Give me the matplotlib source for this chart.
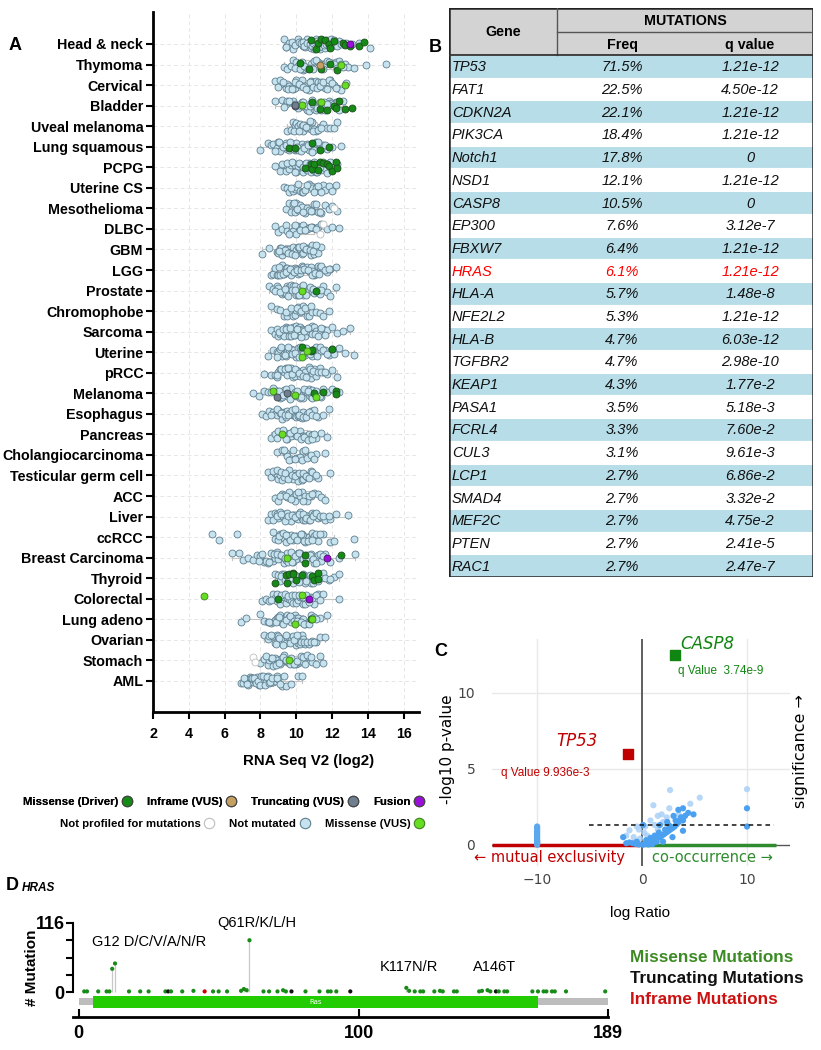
import numpy as np
import pandas as pd
import matplotlib
matplotlib.use('Agg')
import matplotlib.pyplot as plt
import seaborn as sns
from matplotlib.lines import Line2D
from matplotlib.patches import Rectangle

np.random.seed(7)

# ---------------- Panel A data ----------------
categories = ['Head & neck', 'Thymoma', 'Cervical', 'Bladder', 'Uveal melanoma', 'Lung squamous',
              'PCPG', 'Uterine CS', 'Mesothelioma', 'DLBC', 'GBM', 'LGG', 'Prostate', 'Chromophobe',
              'Sarcoma', 'Uterine', 'pRCC', 'Melanoma', 'Esophagus', 'Pancreas', 'Cholangiocarcinoma',
              'Testicular germ cell', 'ACC', 'Liver', 'ccRCC', 'Breast Carcinoma', 'Thyroid',
              'Colorectal', 'Lung adeno', 'Ovarian', 'Stomach', 'AML']

head_neck = [9.3, 9.4, 9.6, 9.7, 9.8, 9.9, 10.0, 10.1, 10.2, 10.3, 10.4, 10.5, 10.5, 10.6, 10.7, 10.8, 10.9, 11.0,
             11.0, 11.1, 11.2, 11.3, 11.4, 11.5, 11.6, 11.7, 11.8, 11.9, 12.0, 12.2, 12.4, 12.6, 12.8, 13.1, 13.5, 14.1,
             9.45, 9.75, 9.95, 10.15, 10.25, 10.35, 10.45, 10.6, 10.75, 10.85, 10.95, 11.05, 11.15, 11.25, 11.35,
             11.45, 11.55, 11.65, 11.75, 11.95, 12.1, 12.3, 12.5]
thymoma = [9.3, 9.5, 9.7, 9.8, 10.0, 10.1, 10.3, 10.4, 10.5, 10.6, 10.8, 10.9, 11.0, 11.2, 11.3, 11.4, 11.6, 11.7,
           11.9, 12.0, 12.2, 12.4, 12.5, 12.7, 12.9, 13.2, 13.9, 15.0,
           9.9, 10.2, 10.45, 10.7, 10.95, 11.1, 11.5, 11.8, 12.1, 12.3, 12.6]
cervical = [8.8, 9.0, 9.1, 9.3, 9.4, 9.5, 9.6, 9.7, 9.8, 9.9, 10.0, 10.1, 10.2, 10.3, 10.4, 10.5, 10.6, 10.7, 10.8,
            10.9, 11.0, 11.1, 11.2, 11.3, 11.4, 11.6, 11.7, 11.9, 12.1, 12.3, 12.5, 12.8,
            9.25, 9.55, 9.75, 9.95, 10.15, 10.35, 10.55, 10.75, 10.95, 11.15, 11.35, 11.5, 11.8, 12.0, 12.2]
bladder = [8.8, 9.2, 9.4, 9.5, 9.7, 9.8, 10.0, 10.1, 10.2, 10.3, 10.4, 10.5, 10.6, 10.7, 10.8, 10.9, 11.0, 11.1,
           11.2, 11.3, 11.4, 11.5, 11.6, 11.8, 11.9, 12.0, 12.2, 12.4, 12.6,
           9.3, 9.6, 9.9, 10.15, 10.35, 10.55, 10.75, 10.95, 11.15, 11.35, 11.55, 11.7, 12.1, 12.3]
uveal = [9.5, 9.7, 9.8, 9.9, 10.0, 10.1, 10.2, 10.3, 10.4, 10.5, 10.6, 10.7, 10.8, 10.9, 11.0, 11.1, 11.3, 11.5,
         11.7, 11.9, 12.1, 12.3, 9.85, 10.15, 10.35, 10.55, 10.75, 10.95, 11.2, 11.4]
lung_sq = [8.0, 8.4, 8.6, 8.7, 8.9, 9.0, 9.1, 9.2, 9.3, 9.4, 9.5, 9.6, 9.7, 9.8, 9.9, 10.0, 10.1, 10.2, 10.3, 10.4,
           10.5, 10.6, 10.7, 10.8, 10.9, 11.0, 11.1, 11.3, 11.5, 11.7, 12.0, 12.5,
           8.8, 9.05, 9.25, 9.45, 9.65, 9.85, 10.05, 10.25, 10.45, 10.65, 10.85, 11.05, 11.2, 11.4, 11.6]
pcpg = [8.8, 9.1, 9.3, 9.4, 9.6, 9.7, 9.8, 9.9, 10.0, 10.1, 10.2, 10.3, 10.4, 10.5, 10.6, 10.7, 10.8, 10.9, 11.0,
        11.1, 11.2, 11.4, 11.6, 11.8, 12.0, 12.3,
        9.2, 9.5, 9.75, 9.95, 10.15, 10.35, 10.55, 10.75, 10.95, 11.15, 11.3, 11.5, 11.7, 11.9]
uterine_cs = [9.3, 9.5, 9.6, 9.8, 9.9, 10.0, 10.2, 10.3, 10.4, 10.5, 10.7, 10.8, 10.9, 11.1, 11.3, 11.5, 11.6,
              11.8, 12.0, 12.2, 9.7, 10.1, 10.6, 11.0, 11.2, 11.4]
meso = [9.4, 9.6, 9.7, 9.8, 9.9, 10.0, 10.1, 10.2, 10.3, 10.5, 10.6, 10.7, 10.9, 11.0, 11.2, 11.4, 11.6, 11.8,
        12.0, 12.3, 9.85, 10.05, 10.4, 10.8, 11.1, 11.3]
dlbc = [8.8, 9.0, 9.2, 9.4, 9.5, 9.7, 9.8, 10.0, 10.1, 10.3, 10.4, 10.6, 10.7, 10.9, 11.0, 11.2, 11.4, 11.7,
        12.0, 12.4, 9.6, 9.9, 10.2, 10.5, 10.8, 11.1]
gbm = [8.1, 8.5, 8.9, 9.0, 9.1, 9.2, 9.3, 9.4, 9.5, 9.6, 9.7, 9.8, 9.9, 10.0, 10.1, 10.2, 10.3, 10.4, 10.5, 10.6,
       10.7, 10.8, 10.9, 11.0, 11.2, 11.4,
       9.15, 9.35, 9.55, 9.75, 9.95, 10.15, 10.35, 10.55, 10.75, 10.95, 11.1, 9.05]
lgg = [8.6, 8.7, 8.9, 9.0, 9.1, 9.2, 9.3, 9.4, 9.5, 9.6, 9.7, 9.8, 9.9, 10.0, 10.1, 10.2, 10.3, 10.4, 10.5, 10.6,
       10.7, 10.8, 10.9, 11.0, 11.1, 11.2, 11.3, 11.5, 11.7, 11.9, 12.2,
       8.8, 9.05, 9.25, 9.45, 9.65, 9.85, 10.05, 10.25, 10.45, 10.65, 10.85, 11.05, 11.25, 11.4, 11.6, 11.8]
prostate = [8.5, 8.7, 8.9, 9.0, 9.2, 9.3, 9.4, 9.5, 9.6, 9.7, 9.8, 9.9, 10.0, 10.1, 10.2, 10.3, 10.4, 10.5, 10.6,
            10.7, 10.8, 10.9, 11.0, 11.1, 11.3, 11.5, 11.7, 11.9, 12.2,
            8.8, 9.1, 9.35, 9.55, 9.75, 9.95, 10.15, 10.35, 10.55, 10.75, 10.95, 11.2, 11.4]
chromophobe = [8.6, 8.9, 9.1, 9.3, 9.5, 9.6, 9.8, 9.9, 10.0, 10.1, 10.2, 10.3, 10.4, 10.6, 10.7, 10.9, 11.1, 11.3,
               11.5, 11.8, 9.4, 9.7, 10.05, 10.25, 10.5, 10.8]
sarcoma = [8.6, 8.8, 8.9, 9.0, 9.1, 9.2, 9.3, 9.4, 9.5, 9.6, 9.7, 9.8, 9.9, 10.0, 10.1, 10.2, 10.3, 10.4, 10.5,
           10.6, 10.7, 10.8, 10.9, 11.0, 11.1, 11.3, 11.5, 11.7, 12.0, 12.3, 12.6, 13.0,
           9.05, 9.25, 9.45, 9.65, 9.85, 10.05, 10.25, 10.45, 10.65, 10.85, 11.05, 11.2, 11.4, 11.6]
uterine = [8.4, 8.7, 8.9, 9.0, 9.1, 9.2, 9.3, 9.4, 9.5, 9.6, 9.7, 9.8, 9.9, 10.0, 10.1, 10.2, 10.3, 10.4, 10.5,
           10.6, 10.7, 10.8, 10.9, 11.0, 11.1, 11.2, 11.4, 11.6, 11.8, 12.1, 12.4, 12.7, 13.2,
           8.95, 9.15, 9.35, 9.55, 9.75, 9.95, 10.15, 10.35, 10.55, 10.75, 10.95, 11.15, 11.3, 11.5, 11.7, 12.0]
prcc = [8.2, 8.6, 8.8, 8.9, 9.0, 9.1, 9.2, 9.3, 9.4, 9.5, 9.6, 9.7, 9.8, 9.9, 10.0, 10.1, 10.2, 10.3, 10.4, 10.5,
        10.6, 10.7, 10.8, 10.9, 11.0, 11.1, 11.3, 11.5, 11.7, 12.0, 12.3,
        8.95, 9.15, 9.35, 9.55, 9.75, 9.95, 10.15, 10.35, 10.55, 10.75, 10.95, 11.2, 11.4, 11.6]
melanoma = [7.6, 7.9, 8.2, 8.4, 8.6, 8.8, 8.9, 9.0, 9.1, 9.2, 9.3, 9.4, 9.5, 9.6, 9.7, 9.8, 9.9, 10.0, 10.1, 10.2,
            10.3, 10.4, 10.5, 10.6, 10.7, 10.8, 10.9, 11.0, 11.2, 11.4, 11.7, 12.0, 12.4,
            8.7, 9.05, 9.25, 9.45, 9.65, 9.85, 10.05, 10.25, 10.45, 10.65, 10.85, 11.1, 11.3, 11.5]
esophagus = [8.1, 8.3, 8.5, 8.7, 8.8, 8.9, 9.0, 9.1, 9.2, 9.3, 9.4, 9.5, 9.6, 9.7, 9.8, 9.9, 10.0, 10.1, 10.2,
             10.3, 10.4, 10.5, 10.6, 10.8, 11.0, 11.2, 11.5, 11.8,
             8.6, 8.95, 9.15, 9.35, 9.55, 9.75, 9.95, 10.15, 10.35, 10.55, 10.7, 10.9, 11.1]
pancreas = [8.6, 8.8, 8.9, 9.1, 9.2, 9.3, 9.4, 9.5, 9.6, 9.7, 9.8, 9.9, 10.0, 10.1, 10.2, 10.3, 10.4, 10.5, 10.6,
            10.7, 10.8, 10.9, 11.1, 11.4, 11.7,
            9.0, 9.25, 9.45, 9.65, 9.85, 10.05, 10.25, 10.45, 10.65, 10.85, 11.0]
cholangio = [8.9, 9.2, 9.4, 9.5, 9.7, 9.8, 10.0, 10.1, 10.2, 10.4, 10.5, 10.7, 10.9, 11.1, 11.6,
             9.3, 9.6, 9.9, 10.3, 10.6, 10.8, 11.0]
testicular = [8.4, 8.6, 8.8, 8.9, 9.0, 9.1, 9.2, 9.3, 9.4, 9.5, 9.6, 9.7, 9.8, 9.9, 10.0, 10.1, 10.2, 10.3, 10.4,
              10.5, 10.6, 10.8, 11.0, 11.2, 11.9,
              8.7, 8.95, 9.15, 9.35, 9.55, 9.75, 9.95, 10.15, 10.35, 10.55, 10.7, 10.9, 11.1]
acc = [8.8, 9.0, 9.2, 9.3, 9.5, 9.6, 9.8, 9.9, 10.0, 10.2, 10.3, 10.5, 10.6, 10.8, 11.0, 11.2, 11.4, 11.6,
       9.1, 9.4, 9.7, 10.1, 10.4, 10.7, 10.9]
liver = [8.4, 8.6, 8.8, 8.9, 9.0, 9.1, 9.2, 9.3, 9.4, 9.5, 9.6, 9.7, 9.8, 9.9, 10.0, 10.1, 10.2, 10.3, 10.4, 10.5,
         10.6, 10.7, 10.8, 10.9, 11.0, 11.2, 11.4, 11.6, 11.9, 12.2, 12.9,
         8.7, 8.95, 9.15, 9.35, 9.55, 9.75, 9.95, 10.15, 10.35, 10.55, 10.75, 10.95, 11.1, 11.3, 11.5, 11.8]
ccrcc = [5.3, 5.7, 6.7, 8.7, 8.8, 9.0, 9.1, 9.2, 9.3, 9.4, 9.5, 9.6, 9.7, 9.8, 9.9, 10.0, 10.1, 10.2, 10.3, 10.4,
         10.5, 10.6, 10.7, 10.8, 10.9, 11.0, 11.2, 11.5, 11.9, 12.1, 13.2,
         9.05, 9.25, 9.45, 9.65, 9.85, 10.05, 10.25, 10.45, 10.65, 10.85, 11.1, 11.3]
breast = [6.4, 6.8, 7.0, 7.3, 7.6, 7.8, 8.0, 8.2, 8.4, 8.6, 8.7, 8.8, 8.9, 9.0, 9.1, 9.2, 9.3, 9.4, 9.5, 9.6, 9.7,
          9.8, 9.9, 10.0, 10.1, 10.2, 10.3, 10.4, 10.5, 10.6, 10.7, 10.8, 10.9, 11.0, 11.2, 11.4, 11.6, 11.9, 12.4, 13.3,
          8.3, 8.5, 8.75, 8.95, 9.15, 9.35, 9.55, 9.75, 9.95, 10.15, 10.35, 10.55, 10.75, 10.95, 11.1, 11.3, 11.5,
          7.9, 8.1]
thyroid = [8.8, 9.0, 9.1, 9.2, 9.3, 9.4, 9.5, 9.6, 9.7, 9.8, 9.9, 10.0, 10.1, 10.2, 10.3, 10.4, 10.5, 10.6, 10.7,
           10.8, 10.9, 11.0, 11.1, 11.3, 11.5, 11.8, 12.1, 12.4,
           9.15, 9.35, 9.55, 9.75, 9.95, 10.15, 10.35, 10.55, 10.75, 10.95, 11.2, 11.4, 11.6, 11.9]
colorectal = [8.1, 8.3, 8.5, 8.7, 8.8, 8.9, 9.0, 9.1, 9.2, 9.3, 9.4, 9.5, 9.6, 9.7, 9.8, 9.9, 10.0, 10.1, 10.2,
              10.3, 10.4, 10.5, 10.6, 10.8, 11.0, 11.2, 11.5, 12.4,
              8.6, 8.95, 9.15, 9.35, 9.55, 9.75, 9.95, 10.15, 10.35, 10.55, 10.7, 10.9, 11.1, 11.3]
lung_adeno = [6.9, 7.2, 8.0, 8.2, 8.4, 8.6, 8.7, 8.8, 8.9, 9.0, 9.1, 9.2, 9.3, 9.4, 9.5, 9.6, 9.7, 9.8, 9.9, 10.0,
              10.1, 10.2, 10.3, 10.4, 10.5, 10.6, 10.8, 11.0, 11.3, 11.7,
              8.5, 8.85, 9.05, 9.25, 9.45, 9.65, 9.85, 10.05, 10.25, 10.45, 10.7, 10.9, 11.1]
ovarian = [8.2, 8.4, 8.5, 8.7, 8.8, 8.9, 9.0, 9.1, 9.2, 9.3, 9.4, 9.5, 9.6, 9.7, 9.8, 9.9, 10.0, 10.1, 10.2, 10.3,
           10.4, 10.5, 10.7, 10.9, 11.1, 11.3, 11.6,
           8.6, 8.85, 9.05, 9.25, 9.45, 9.65, 9.85, 10.05, 10.25, 10.45, 10.6, 10.8, 11.0]
stomach = [8.0, 8.2, 8.4, 8.5, 8.6, 8.7, 8.8, 8.9, 9.0, 9.1, 9.2, 9.3, 9.4, 9.5, 9.6, 9.7, 9.8, 9.9, 10.0, 10.1,
           10.2, 10.3, 10.5, 10.7, 10.9, 11.1, 11.5,
           8.3, 8.65, 8.85, 9.05, 9.25, 9.45, 9.65, 9.85, 10.05, 10.25, 10.4, 10.6, 10.8, 11.3]
aml = [6.9, 7.0, 7.2, 7.3, 7.4, 7.5, 7.6, 7.7, 7.8, 7.9, 8.0, 8.1, 8.2, 8.3, 8.4, 8.5, 8.6, 8.7, 8.8, 8.9, 9.0,
       9.2, 9.4, 9.7, 10.1, 10.3,
       7.1, 7.25, 7.45, 7.55, 7.65, 7.75, 7.85, 7.95, 8.05, 8.15, 8.25, 8.35, 8.45, 8.55, 8.65, 8.9, 9.1, 9.3]

not_mutated = [head_neck, thymoma, cervical, bladder, uveal, lung_sq, pcpg, uterine_cs, meso, dlbc, gbm, lgg,
               prostate, chromophobe, sarcoma, uterine, prcc, melanoma, esophagus, pancreas, cholangio,
               testicular, acc, liver, ccrcc, breast, thyroid, colorectal, lung_adeno, ovarian, stomach, aml]

driver_cat = (['Head & neck'] * 13 + ['Thymoma'] * 5 + ['Bladder'] * 8 + ['Lung squamous'] * 5 + ['PCPG'] * 12
              + ['Prostate'] + ['Uterine'] * 4 + ['Melanoma'] * 4 + ['Breast Carcinoma'] * 3 + ['Thyroid'] * 12
              + ['Colorectal'] + ['Lung adeno'])
driver_val = [10.8, 11.1, 11.2, 11.4, 11.6, 11.8, 11.9, 12.1, 12.6, 12.7, 13.0, 13.5, 13.8,
              10.2, 10.7, 11.4, 11.9, 12.3,
              10.9, 11.3, 11.7, 12.1, 12.2, 12.4, 12.7, 13.1,
              9.6, 9.9, 10.9, 11.3, 11.8,
              10.5, 10.8, 10.9, 11.0, 11.2, 11.3, 11.5, 11.7, 11.8, 12.0, 12.2, 12.3,
              11.1,
              10.3, 10.8, 10.9, 12.0,
              11.0, 11.5, 12.2, 12.2,
              10.5, 10.5, 12.5,
              8.8, 9.4, 9.5, 9.6, 9.8, 9.8, 10.0, 10.3, 10.9, 11.0, 11.2, 11.2,
              9.0,
              10.8]
vus_cat = ['Thymoma', 'Cervical', 'Bladder', 'Bladder', 'Prostate', 'Uterine', 'Uterine', 'Melanoma', 'Melanoma',
           'Melanoma', 'Pancreas', 'Breast Carcinoma', 'Colorectal', 'Colorectal', 'Lung adeno', 'Lung adeno',
           'Stomach']
vus_val = [12.5, 12.7, 10.3, 11.4, 10.3, 10.3, 10.6, 8.7, 9.9, 11.1, 9.2, 9.5, 4.85, 10.3, 9.9, 10.9, 9.6]
inframe_cat = ['Thymoma']
inframe_val = [11.3]
trunc_cat = ['Bladder', 'Bladder', 'Melanoma', 'Melanoma']
trunc_val = [9.9, 9.9, 8.9, 9.5]
fusion_cat = ['Head & neck', 'Breast Carcinoma', 'Colorectal']
fusion_val = [13.0, 11.7, 10.7]
np_cat = ['Mesothelioma', 'DLBC', 'DLBC', 'Stomach', 'Stomach']
np_val = [12.1, 11.3, 11.5, 7.6, 7.7]

x_ticks_a = [2, 4, 6, 8, 10, 12, 14, 16]

# ---------------- Panel B data ----------------
genes = ['TP53', 'FAT1', 'CDKN2A', 'PIK3CA', 'Notch1', 'NSD1', 'CASP8', 'EP300', 'FBXW7', 'HRAS', 'HLA-A',
         'NFE2L2', 'HLA-B', 'TGFBR2', 'KEAP1', 'PASA1', 'FCRL4', 'CUL3', 'LCP1', 'SMAD4', 'MEF2C', 'PTEN', 'RAC1']
freqs = ['71.5%', '22.5%', '22.1%', '18.4%', '17.8%', '12.1%', '10.5%', '7.6%', '6.4%', '6.1%', '5.7%', '5.3%',
         '4.7%', '4.7%', '4.3%', '3.5%', '3.3%', '3.1%', '2.7%', '2.7%', '2.7%', '2.7%', '2.7%']
qvals = ['1.21e-12', '4.50e-12', '1.21e-12', '1.21e-12', '0', '1.21e-12', '0', '3.12e-7', '1.21e-12', '1.21e-12',
         '1.48e-8', '1.21e-12', '6.03e-12', '2.98e-10', '1.77e-2', '5.18e-3', '7.60e-2', '9.61e-3', '6.86e-2',
         '3.32e-2', '4.75e-2', '2.41e-5', '2.47e-7']

# ---------------- Panel C data ----------------
excl_x = [-10] * 16
excl_y = [0.0, 0.05, 0.1, 0.15, 0.2, 0.25, 0.3, 0.4, 0.5, 0.6, 0.7, 0.8, 0.9, 1.0, 1.1, 1.2]
dark_x = [0.1, 0.3, 0.5, 0.7, 0.9, 1.1, 1.3, 1.5, 1.7, 1.9, 2.1, 2.3, 2.5, 2.7, 2.9, 3.1, 3.3, 3.5, 3.9, 3.9,
          4.1, 4.9, 3.9, 2.9, 2.0, 1.0, -0.3, -0.6, -0.9, -1.2, -1.5, -0.5, 3.46, 3.0, 2.4, 1.7, 0.1, -1.8,
          10.0, 10.0, 0.4, 0.8, 1.2, 1.6, 2.2, 2.6, 3.2, 3.7, 4.4, 1.4, 0.6]
dark_y = [0.0, 0.05, 0.1, 0.15, 0.2, 0.3, 0.35, 0.45, 0.5, 0.6, 0.7, 0.8, 0.9, 1.0, 1.1, 1.2, 1.35, 1.5, 1.6, 2.4,
          1.9, 2.0, 0.92, 0.5, 0.2, 0.05, 0.02, 0.05, 0.1, 0.15, 0.1, 0.2, 2.3, 1.9, 1.5, 1.3, 1.3, 0.5,
          2.4, 1.2, 0.3, 0.45, 0.6, 0.8, 1.0, 1.25, 1.6, 1.8, 2.1, 0.2, 0.02]
light_x = [-0.8, -0.5, -0.3, 0.3, 0.8, 1.08, 1.5, 2.0, 2.35, 2.67, 1.87, 3.5, 4.6, 5.5, -0.2, 0.5, 1.5, -1.2,
           -1.5, 10.0, 0.2, 1.2, 2.6]
light_y = [0.5, 1.2, 1.0, 1.2, 1.6, 2.6, 1.9, 1.5, 1.8, 3.6, 2.0, 2.0, 2.7, 3.1, 0.4, 0.6, 1.0, 0.95, 0.6, 3.66,
           0.8, 1.3, 2.4]
casp8_xy = [3.1, 12.5]
tp53_xy = [-1.33, 6.0]
sig_line = 1.3

# ---------------- Panel D data ----------------
mut_pos = [2, 3, 7, 10, 11, 12, 13, 18, 22, 25, 31, 32, 33, 37, 41, 45, 48, 50, 53, 58, 59, 60, 61, 66, 68, 71,
           73, 74, 76, 81, 86, 89, 90, 92, 97, 117, 118, 120, 122, 123, 127, 129, 130, 134, 135, 143, 144, 146,
           147, 149, 150, 152, 153, 162, 164, 166, 167, 169, 170, 174, 188]
mut_cnt = [1, 1, 1, 1, 1, 39, 48, 1, 1, 1, 1, 1, 1, 1, 2, 1, 1, 1, 1, 2, 5, 3, 87, 1, 1, 1, 3, 1, 1, 1, 1, 1, 1, 1,
           1, 7, 2, 1, 1, 1, 1, 2, 1, 1, 1, 1, 2, 3, 1, 1, 1, 1, 1, 1, 1, 1, 1, 1, 1, 1, 1]
mut_kind = ['m', 'm', 'm', 'm', 'm', 'm', 'm', 'm', 'm', 'm', 'm', 't', 'm', 'm', 'm', 'i', 'm', 'm', 'm', 'm', 'm',
            'm', 'm', 'm', 'm', 'm', 'm', 'm', 't', 'm', 'm', 'm', 'm', 'm', 't', 'm', 'm', 'm', 'm', 'm', 'm', 'm',
            'm', 'm', 'm', 'm', 'm', 'm', 'm', 't', 'm', 'm', 'm', 'm', 'm', 'm', 'm', 'm', 'm', 'm', 'm']
protein_len = 189
ras_domain = [5, 164]
hotspot_labels = ['G12 D/C/V/A/N/R', 'Q61R/K/L/H', 'K117N/R', 'A146T']

# ---------------- Figure ----------------
W, H = 821, 1050
fig = plt.figure(figsize=(W / 100, H / 100), dpi=100)


def rect(l, t, r, b):
    return [l / W, 1 - b / H, (r - l) / W, (b - t) / H]


ARIAL = 'Liberation Sans'
NM_FACE, NM_EDGE = '#c6e3ef', '#5f7e8e'

# ===== Panel A =====
axA = fig.add_axes(rect(153, 12, 419, 712))
rows = [(c, v) for c, vals in zip(categories, not_mutated) for v in vals]
dfA = pd.DataFrame(rows, columns=['cat', 'val'])

axA.boxplot(not_mutated, positions=list(range(len(categories))), orientation='horizontal', widths=0.45,
            showfliers=False, manage_ticks=False,
            boxprops=dict(color='#c4c4c4', lw=0.8), whiskerprops=dict(color='#c4c4c4', lw=0.8),
            capprops=dict(color='#c4c4c4', lw=0.8), medianprops=dict(color='#c4c4c4', lw=0.8), zorder=1)

sns.stripplot(data=dfA, x='val', y='cat', order=categories, orient='h', jitter=0.26, size=5.0,
              color=NM_FACE, edgecolor=NM_EDGE, linewidth=0.6, ax=axA, zorder=2)


def mut_strip(cats, vals, face, edge):
    d = pd.DataFrame({'cat': cats, 'val': vals})
    sns.stripplot(data=d, x='val', y='cat', order=categories, orient='h', jitter=0.26, size=5.0,
                  color=face, edgecolor=edge, linewidth=0.6, ax=axA, zorder=3)


mut_strip(np_cat, np_val, '#ffffff', '#bdbdbd')
mut_strip(driver_cat, driver_val, '#168a16', '#1d4d1d')
mut_strip(vus_cat, vus_val, '#66dd22', '#3f7f1f')
mut_strip(inframe_cat, inframe_val, '#c4a062', '#6e5a38')
mut_strip(trunc_cat, trunc_val, '#6f7f90', '#40484f')
mut_strip(fusion_cat, fusion_val, '#9b10d8', '#4d0a6a')

axA.set_xlim(2, 16.85)
axA.set_ylim(len(categories) - 1 + 1.51, -1.557)
axA.set_xticks(x_ticks_a)
axA.set_xticklabels([str(t) for t in x_ticks_a], fontfamily=ARIAL, fontweight='bold', fontsize=10.3)
axA.set_yticks(list(range(len(categories))))
axA.set_yticklabels(categories, fontfamily=ARIAL, fontweight='bold', fontsize=10.3)
axA.grid(True, color='#e6e6e6', linestyle=(0, (4, 3)), linewidth=0.7)
axA.set_axisbelow(True)
for s in ['top', 'right']:
    axA.spines[s].set_visible(False)
for s in ['left', 'bottom']:
    axA.spines[s].set_linewidth(2)
axA.tick_params(axis='both', length=5, width=1.5, direction='out')
axA.tick_params(axis='y', pad=2)
axA.tick_params(axis='x', pad=6)
axA.set_ylabel('')
axA.set_xlabel('RNA Seq V2 (log2)', fontfamily=ARIAL, fontweight='bold', fontsize=10.8)
axA.xaxis.set_label_coords((309 - 153) / 266, -(754 - 712) / 700)

legprop = {'family': ARIAL, 'weight': 'bold', 'size': 8.2}


def lh(face, edge='#444444'):
    return Line2D([], [], ls='', marker='o', markersize=7.5, markerfacecolor=face, markeredgecolor=edge,
                  markeredgewidth=0.8)


leg1 = fig.legend([lh('#168a16'), lh('#c4a062'), lh('#6f7f90'), lh('#9b10d8')],
                  ['Missense (Driver)', 'Inframe (VUS)', 'Truncating (VUS)', 'Fusion'],
                  ncol=4, loc='center right', bbox_to_anchor=(424 / W, 1 - 802 / H), frameon=False,
                  markerfirst=False, handletextpad=0.3, columnspacing=1.3, handlelength=0.9, prop=legprop,
                  borderpad=0, borderaxespad=0)
leg2 = fig.legend([lh('#ffffff', '#bdbdbd'), lh(NM_FACE, NM_EDGE), lh('#66dd22', '#3f7f1f')],
                  ['Not profiled for mutations', 'Not mutated', 'Missense (VUS)'],
                  ncol=3, loc='center right', bbox_to_anchor=(424 / W, 1 - 824 / H), frameon=False,
                  markerfirst=False, handletextpad=0.3, columnspacing=1.3, handlelength=0.9, prop=legprop,
                  borderpad=0, borderaxespad=0)
fig.add_artist(leg1)

# ===== Panel B =====
TW, TH = 364, 569
axB = fig.add_axes(rect(449, 8, 449 + TW, 8 + TH))
axB.set_xlim(0, TW)
axB.set_ylim(TH, 0)
axB.axis('off')
h1, h2 = 24, 23
top = h1 + h2
rh = (TH - top) / len(genes)
gene_w = 108
axB.add_patch(Rectangle((0, 0), TW, top, fc='#d3d3d3', ec='none'))
for i in range(len(genes)):
    fc = '#b7dde8' if i % 2 == 0 else '#ffffff'
    axB.add_patch(Rectangle((0, top + i * rh), TW, rh, fc=fc, ec='#ffffff', lw=0.8))
axB.plot([gene_w, gene_w], [0, top], color='#555555', lw=1)
axB.plot([gene_w, TW], [h1, h1], color='#555555', lw=1)
axB.plot([0, TW], [top, top], color='#333333', lw=1.3)
axB.add_patch(Rectangle((0, 0), TW, TH, fill=False, ec='#222222', lw=1.8))
hdr = dict(fontfamily=ARIAL, fontweight='bold', fontsize=10.3, ha='center', va='center')
axB.text(gene_w / 2, top / 2, 'Gene', **hdr)
axB.text((gene_w + TW) / 2, h1 / 2 + 1, 'MUTATIONS', **hdr)
axB.text(173, h1 + h2 / 2 + 1, 'Freq', **hdr)
axB.text(301, h1 + h2 / 2 + 1, 'q value', **hdr)
for i, (g, f, q) in enumerate(zip(genes, freqs, qvals)):
    col = '#ff0000' if g == 'HRAS' else '#111111'
    yc = top + (i + 0.5) * rh + 1
    kw = dict(fontfamily=ARIAL, fontstyle='italic', fontsize=10.5, va='center', color=col)
    axB.text(3, yc, g, ha='left', **kw)
    axB.text(173, yc, f, ha='center', **kw)
    axB.text(301, yc, q, ha='center', **kw)

# ===== Panel C =====
axC = fig.add_axes(rect(492, 639, 790, 866))
axC.set_xlim(-14.3, 14.1)
axC.set_ylim(-1.4, 13.55)
for s in axC.spines.values():
    s.set_visible(False)
for gx in [-10, 10]:
    axC.axvline(gx, color='#e8e8e8', lw=1, zorder=0)
for gy in [5, 10]:
    axC.axhline(gy, color='#e8e8e8', lw=1, zorder=0)
axC.axhline(0, color='#555555', lw=1, zorder=1)
axC.plot([-14.3, -0.15], [0, 0], color='#c00000', lw=2.5, zorder=2, solid_capstyle='butt')
axC.plot([0.15, 12.8], [0, 0], color='#2e8b2e', lw=2.5, zorder=2, solid_capstyle='butt')
axC.axvline(0, color='#444444', lw=1.2, zorder=2)
axC.plot([-5.1, 12.6], [sig_line, sig_line], color='#111111', lw=1.1, ls=(0, (3, 2.5)), zorder=4)
axC.scatter(light_x, light_y, s=20, color='#a9d0f7', edgecolor='none', alpha=0.85, zorder=3)
axC.scatter(excl_x, excl_y, s=20, color='#5aa8f0', edgecolor='none', zorder=3)
axC.scatter(dark_x, dark_y, s=20, color='#4ba0f0', edgecolor='none', zorder=3)
axC.scatter([casp8_xy[0]], [casp8_xy[1]], marker='s', s=48, color='#118511', zorder=5)
axC.scatter([tp53_xy[0]], [tp53_xy[1]], marker='s', s=48, color='#c00000', zorder=5)
axC.text(3.6, 13.2, 'CASP8', color='#118511', fontstyle='italic', fontsize=12, ha='left', va='center',
         fontfamily='DejaVu Sans')
axC.text(3.45, 11.45, 'q Value  3.74e-9', color='#118511', fontsize=8.5, ha='left', va='center',
         fontfamily=ARIAL)
axC.text(-6.2, 6.85, 'TP53', color='#c00000', fontstyle='italic', fontsize=12, ha='center', va='center',
         fontfamily='DejaVu Sans')
axC.text(-9.2, 4.7, 'q Value 9.936e-3', color='#c00000', fontsize=8.5, ha='center', va='center',
         fontfamily=ARIAL)
axC.text(-8.8, -0.85, '\u2190 mutual exclusivity', color='#c00000', fontsize=10.5, ha='center', va='center',
         fontfamily='DejaVu Sans')
axC.text(6.7, -0.85, 'co-occurrence \u2192', color='#2e8b2e', fontsize=10.5, ha='center', va='center',
         fontfamily='DejaVu Sans')
axC.set_xticks([-10, 0, 10])
axC.set_xticklabels(['\u221210', '0', '10'])
axC.set_yticks([0, 5, 10])
axC.tick_params(length=0, labelsize=10, labelcolor='#444444')
axC.tick_params(axis='x', pad=5)
axC.tick_params(axis='y', pad=12)
axC.set_ylabel('-log10 p-value', fontsize=11, fontfamily='DejaVu Sans')
axC.yaxis.set_label_coords((455 - 492) / 298, (866 - 749) / 227)
fig.text(800 / W, 1 - 751 / H, 'significance \u2192', rotation=90, ha='center', va='center', fontsize=11.5,
         fontfamily='DejaVu Sans')
fig.text(640 / W, 1 - 913 / H, 'log Ratio', ha='center', va='center', fontsize=11, fontfamily=ARIAL)

# ===== Panel D =====
axD = fig.add_axes(rect(73, 918, 608, 1017))
axD.set_xlim(-2, protein_len)
axD.set_ylim(-42, 124.4)
axD.add_patch(Rectangle((0, -21.8), protein_len, 11.7, fc='#bdbdbd', ec='none', zorder=1))
axD.add_patch(Rectangle((ras_domain[0], -26.9), ras_domain[1] - ras_domain[0], 20.2, fc='#22cc00',
                        ec='none', zorder=2))
axD.text(sum(ras_domain) / 2, -16.8, 'Ras', color='white', fontsize=5, ha='center', va='center', zorder=3)
axD.vlines(mut_pos, 0, mut_cnt, color='#c8c8c8', lw=0.9, zorder=2)
kind_color = {'m': '#178a17', 't': '#111111', 'i': '#cc0000'}
axD.scatter(mut_pos, mut_cnt, s=9, c=[kind_color[k] for k in mut_kind], zorder=4, linewidths=0)
lab_kw = dict(fontfamily=ARIAL, fontsize=10.5, ha='left', va='center')
axD.text(4.8, 84, hotspot_labels[0], **lab_kw)
axD.text(49.4, 116, hotspot_labels[1], **lab_kw)
axD.text(107.6, 42, hotspot_labels[2], **lab_kw)
axD.text(140.9, 42, hotspot_labels[3], **lab_kw)
for s in ['top', 'right']:
    axD.spines[s].set_visible(False)
axD.spines['left'].set_bounds(0, 116)
axD.spines['left'].set_linewidth(1.5)
axD.spines['bottom'].set_linewidth(2)
axD.set_yticks([0, 29, 58, 87, 116])
axD.set_yticklabels(['0', '', '', '', '116'], fontfamily=ARIAL, fontweight='bold', fontsize=13)
axD.set_xticks([0, 100, protein_len])
axD.set_xticklabels(['0', '100', str(protein_len)], fontfamily=ARIAL, fontweight='bold', fontsize=13)
axD.tick_params(axis='y', length=5, width=1.5, pad=1)
axD.tick_params(axis='x', length=6, width=1.5, direction='in', pad=6)
axD.set_ylabel('# Mutation', fontfamily=ARIAL, fontweight='bold', fontsize=11)
axD.yaxis.set_label_coords((39 - 73) / 535, (1017 - 968) / 99)

fig.text(630 / W, 1 - 958 / H, 'Missense Mutations', color='#3c8a24', fontsize=12.3, fontweight='bold',
         fontfamily=ARIAL, ha='left', va='center')
fig.text(630 / W, 1 - 979 / H, 'Truncating Mutations', color='#111111', fontsize=12.3, fontweight='bold',
         fontfamily=ARIAL, ha='left', va='center')
fig.text(630 / W, 1 - 1000 / H, 'Inframe Mutations', color='#cc1111', fontsize=12.3, fontweight='bold',
         fontfamily=ARIAL, ha='left', va='center')

# ===== panel letters =====
letter = dict(fontfamily=ARIAL, fontweight='bold', fontsize=13, ha='left', va='center')
fig.text(9 / W, 1 - 46 / H, 'A', **letter)
fig.text(429 / W, 1 - 47 / H, 'B', **letter)
fig.text(434 / W, 1 - 652 / H, 'C', **letter)
fig.text(6 / W, 1 - 885 / H, 'D', **letter)
fig.text(22 / W, 1 - 888 / H, 'HRAS', fontfamily=ARIAL, fontweight='bold', fontstyle='italic', fontsize=8.5,
         ha='left', va='center')

fig.savefig('out.png', dpi=100)
